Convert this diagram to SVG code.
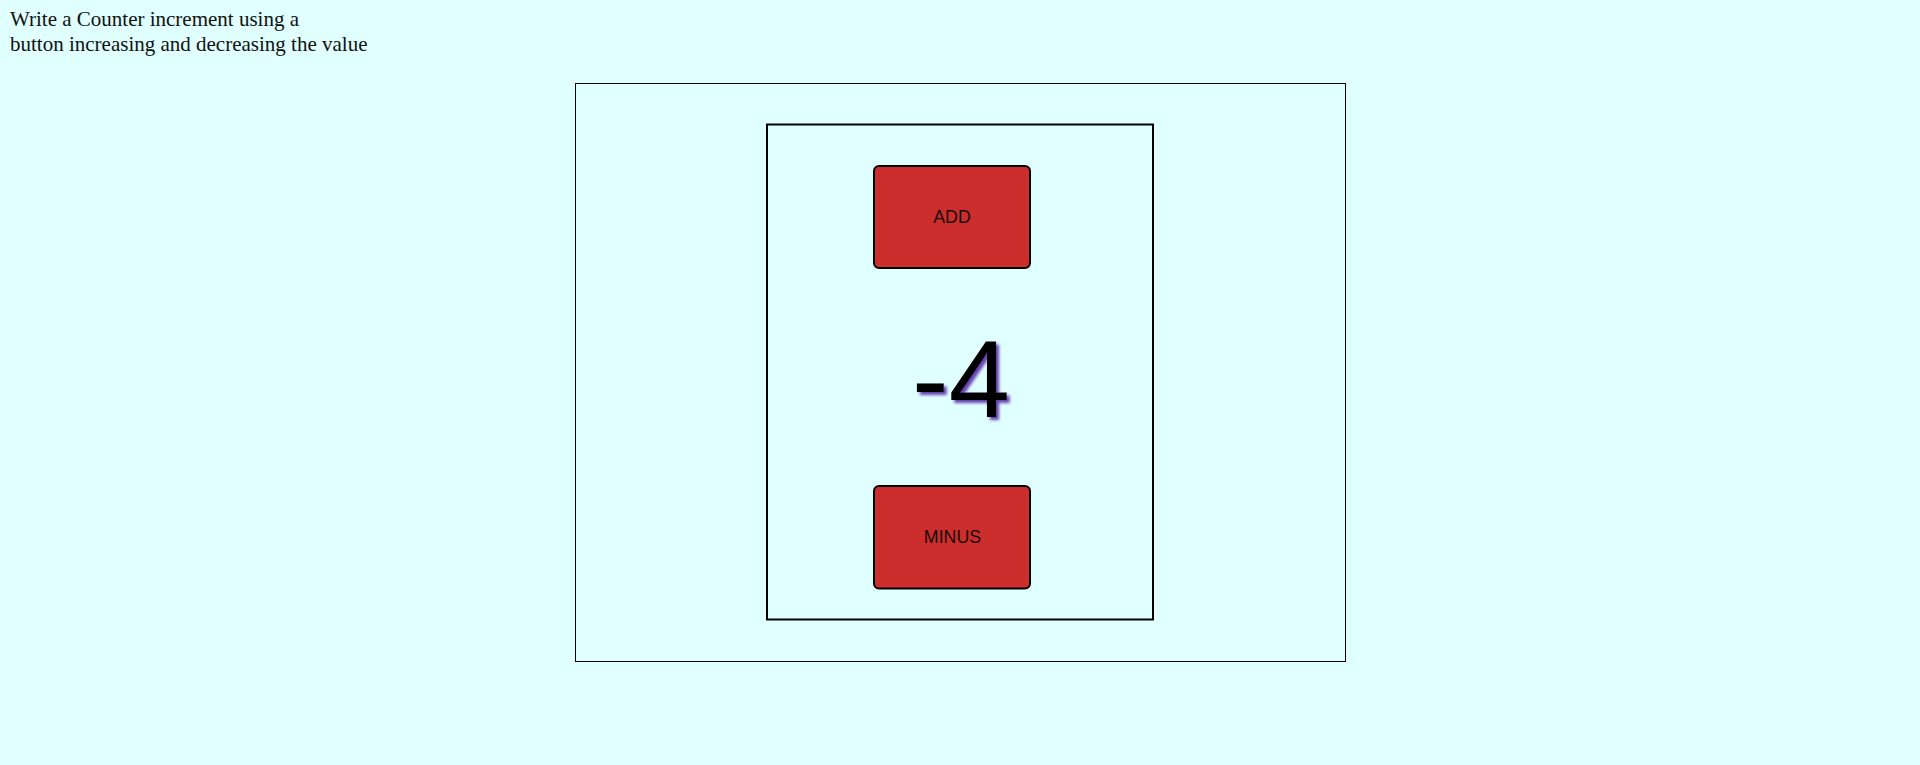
<svg xmlns="http://www.w3.org/2000/svg" width="1920" height="765" viewBox="0 0 1920 765">
  <defs>
    <style>
      .title { font-family: "Liberation Serif", "Times New Roman", serif; font-size: 21px; fill: #111; }
      .frame { fill: none; stroke: #000; }
      .btn { fill: #cc2e2e; stroke: #000; stroke-width: 2; }
      .btnlabel { font-family: "Liberation Sans", Arial, sans-serif; font-size: 17.8px; fill: #1a0a0a; text-anchor: middle; }
      .count { font-family: "Liberation Sans", Arial, sans-serif; font-size: 110px; fill: #000; }
    </style>
    <filter id="purpleShadow" x="-20%" y="-20%" width="140%" height="140%">
      <feDropShadow dx="3" dy="3" stdDeviation="1.6" flood-color="#5a2fa8" flood-opacity="0.9"/>
    </filter>
  </defs>
  <rect x="0" y="0" width="1920" height="765" fill="#e0ffff"/>
  <g id="title">
    <text class="title" x="10" y="26">Write a Counter increment using a</text>
    <text class="title" x="10" y="50.5">button increasing and decreasing the value</text>
  </g>
  <g id="outer-container">
    <rect class="frame" x="575.5" y="83.5" width="770" height="578" stroke-width="1"/>
  </g>
  <g id="counter-panel">
    <rect class="frame" x="767" y="124.5" width="386" height="495" stroke-width="2"/>
  </g>
  <g id="add-button">
    <rect class="btn" x="874" y="166" width="156" height="102" rx="5" ry="5"/>
    <text class="btnlabel" x="952" y="223">ADD</text>
  </g>
  <g id="counter-value">
    <text class="count" x="912" y="417" filter="url(#purpleShadow)">-4</text>
  </g>
  <g id="minus-button">
    <rect class="btn" x="874" y="486" width="156" height="102.5" rx="5" ry="5"/>
    <text class="btnlabel" x="952.5" y="543">MINUS</text>
  </g>
  <g id="connectors"/>
</svg>
